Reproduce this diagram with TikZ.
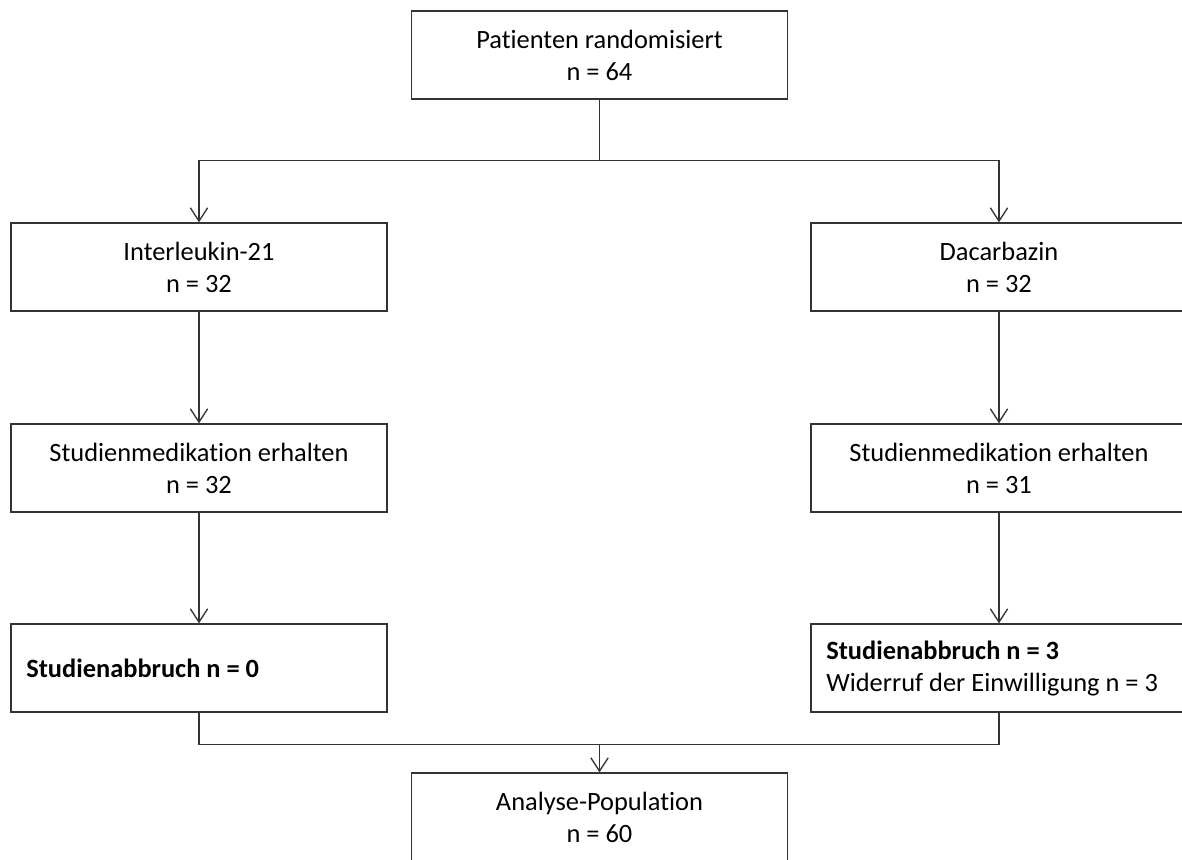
\documentclass[tikz,border=0pt]{standalone}
\usepackage{fontspec}
\setmainfont{Carlito}[Ligatures=NoCommon]
\usetikzlibrary{arrows.meta}
\tikzstyle{box}=[draw=black!80,line width=1pt,minimum width=282pt,minimum height=66pt,inner sep=0pt,align=center,font=\fontsize{19.8}{24}\selectfont]
\tikzstyle{leftbox}=[box,align=flush left,text width=259pt,inner xsep=11.5pt,execute at begin node={\spaceskip=0pt\xspaceskip=0pt}]
\tikzstyle{edge}=[draw=black!80,line width=1pt,-{Straight Barb[length=10pt,width=13pt]}]
\tikzstyle{line}=[draw=black!80,line width=1pt]

\begin{document}
\begin{tikzpicture}[x=0.75pt,y=-0.75pt]

\clip (0,0) rectangle (1182,860);

    \node[box] (rand) at (599.5,55) {Patienten randomisiert\\n = 64};

    \node[box] (il) at (199,267) {Interleukin-21\\n = 32};
    \node[box] (ilmed) at (199,468) {Studienmedikation erhalten\\n = 32};
    \node[leftbox] (ilab) at (199,668) {\textbf{Studienabbruch n = 0}};

    \node[box] (da) at (999,267) {Dacarbazin\\n = 32};
    \node[box] (damed) at (999,468) {Studienmedikation erhalten\\n = 31};
    \node[leftbox] (daab) at (999,668) {\textbf{Studienabbruch n = 3}\\Widerruf der Einwilligung n = 3};

    \node[box] (ana) at (599.5,817) {Analyse-Population\\n = 60};

    % randomisation split
    \draw[line] (rand.south) -- ++(0,61) coordinate (split);
    \draw[edge] (split) -| (il.north);
    \draw[edge] (split) -| (da.north);

    \foreach \source/ \dest in {il/ilmed, ilmed/ilab, da/damed, damed/daab}
        \path[edge] (\source) -- (\dest);

    % both arms into analysis
    \draw[line] (ilab.south) -- ++(0,32) coordinate (join) -| (daab.south);
    \draw[edge] (join -| ana.north) -- (ana.north);

\end{tikzpicture}
\end{document}
